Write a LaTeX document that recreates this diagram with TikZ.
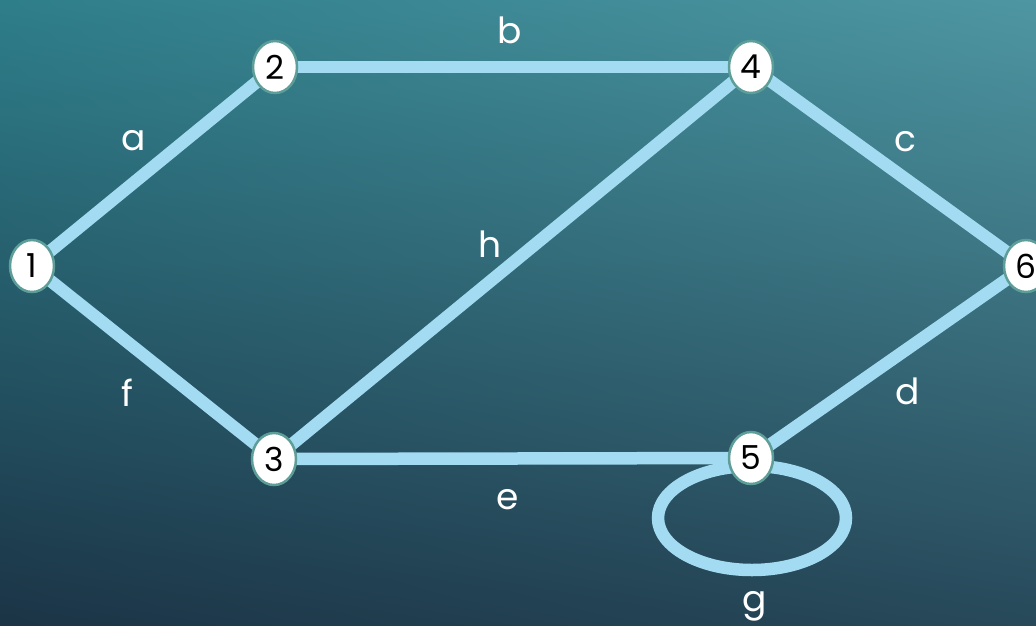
\documentclass[tikz,border=0pt]{standalone}
\usepackage{fontspec}
\setmainfont{Poppins}
\usetikzlibrary{shapes.geometric,shadings}
\pgfdeclarelayer{bg}
\pgfsetlayers{bg,main}
\definecolor{edgeblue}{HTML}{A3DCF2}
\definecolor{nodeborder}{HTML}{5E9E98}
\definecolor{bgTL}{HTML}{2E7E8A}
\definecolor{bgTR}{HTML}{4E96A2}
\definecolor{bgBL}{HTML}{1B3446}
\definecolor{bgBR}{HTML}{27495A}
\tikzset{
  vert/.style={ellipse, draw=nodeborder, line width=2.5pt, fill=white,
    minimum width=44pt, minimum height=52pt, inner sep=0pt,
    font=\fontsize{33}{33}\selectfont, text=black},
  edge/.style={draw=edgeblue, line width=12.5pt},
  elabel/.style={anchor=base, text=white, font=\fontsize{36}{36}\selectfont}
}
\begin{document}
\begin{tikzpicture}[x=1pt, y=-1pt]
\useasboundingbox (0,0) rectangle (1036,625);
% vertices
\node[vert] (n1) at (32,266) {1};
\node[vert] (n2) at (275,67) {2};
\node[vert] (n4) at (751,67) {4};
\node[vert] (n6) at (1026,266) {6};
\node[vert] (n3) at (274,459) {3};
\node[vert] (n5) at (751,458) {5};
\begin{pgfonlayer}{bg}
\shade[upper left=bgTL, upper right=bgTR, lower left=bgBL, lower right=bgBR]
  (0,0) rectangle (1036,625);
\draw[edge] (n1.center) -- (n2.center);
\draw[edge] (n2.center) -- (n4.center);
\draw[edge] (n4.center) -- (n6.center);
\draw[edge] (n1.center) -- (n3.center);
\draw[edge] (n3.center) -- (n4.center);
\draw[edge] (n3.center) -- (n5.center);
\draw[edge] (n5.center) -- (n6.center);
\draw[edge] (n5.center) ++(1,60) ellipse [x radius=94pt, y radius=52pt];
\end{pgfonlayer}
% labels
\node[elabel] (la) at (134,150) {a};
\node[elabel] (lb) at (510,43) {b};
\node[elabel] (lc) at (905,151) {c};
\node[elabel] (lh) at (490,257) {h};
\node[elabel] (ld) at (908,404) {d};
\node[elabel] (lf) at (127,406) {f};
\node[elabel] (le) at (508,509) {e};
\node[elabel] (lg) at (755,611) {g};
\end{tikzpicture}
\end{document}
